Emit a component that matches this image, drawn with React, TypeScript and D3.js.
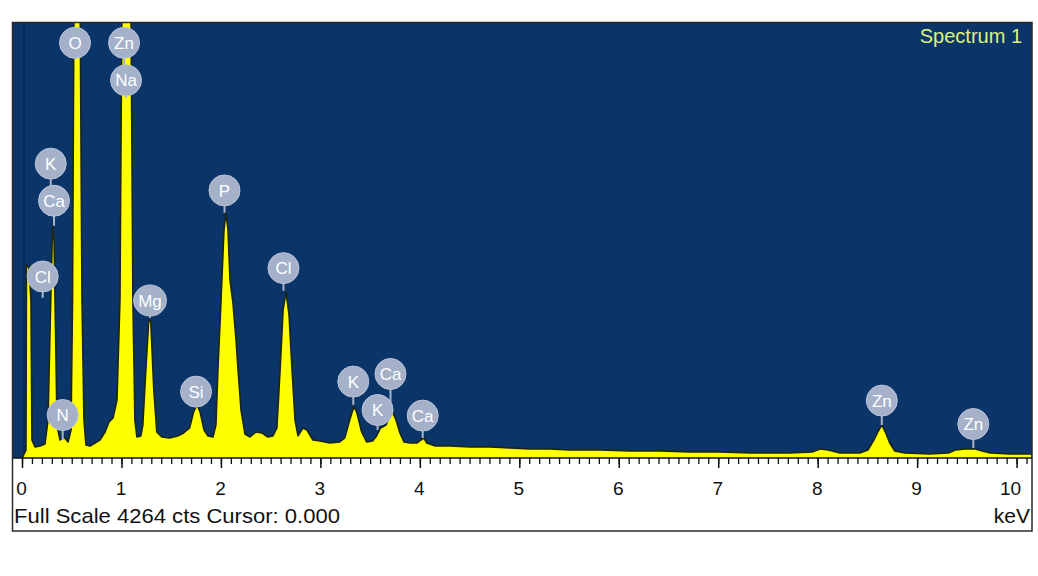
import React from "react";
import * as d3 from "d3";

// ---- Spectrum data (energy in keV, counts) ----
const energyKeV = [
  0.0, 0.01, 0.035, 0.04, 0.065, 0.085, 0.095, 0.126, 0.176, 0.226,
  0.257, 0.277, 0.302, 0.317, 0.332, 0.347, 0.377, 0.417, 0.458, 0.488,
  0.503, 0.518, 0.538, 0.578, 0.598, 0.618, 0.638, 0.679, 0.729, 0.779,
  0.83, 0.87, 0.91, 0.95, 0.98, 1.0, 1.04, 1.09, 1.11, 1.13,
  1.15, 1.19, 1.21, 1.24, 1.27, 1.29, 1.32, 1.35, 1.4, 1.48,
  1.56, 1.62, 1.68, 1.72, 1.755, 1.785, 1.825, 1.865, 1.915, 1.945,
  1.965, 1.995, 2.026, 2.046, 2.066, 2.086, 2.116, 2.147, 2.167, 2.197,
  2.237, 2.287, 2.348, 2.408, 2.468, 2.518, 2.558, 2.59, 2.62, 2.65,
  2.68, 2.71, 2.74, 2.77, 2.82, 2.86, 2.92, 2.99, 3.09, 3.19,
  3.24, 3.29, 3.33, 3.36, 3.41, 3.46, 3.52, 3.56, 3.6, 3.655,
  3.695, 3.725, 3.755, 3.795, 3.835, 3.895, 3.965, 4.005, 4.035, 4.065,
  4.15, 4.3, 4.5, 4.7, 4.9, 5.1, 5.3, 5.5, 5.81, 6.11,
  6.41, 6.71, 7.01, 7.32, 7.72, 7.94, 8.02, 8.1, 8.22, 8.42,
  8.5, 8.56, 8.6, 8.64, 8.68, 8.72, 8.77, 8.87, 9.12, 9.31,
  9.38, 9.48, 9.58, 9.65, 9.73, 9.93, 10.14,
];
const counts = [
  0, 29, 78, 1891, 1862, 1548, 176, 108, 118, 137,
  372, 1254, 2274, 2136, 1254, 323, 176, 206, 157, 274,
  1548, 4600, 5200, 4700, 1548, 372, 127, 118, 147, 176,
  255, 353, 392, 568, 1548, 4500, 5400, 4500, 1548, 372,
  206, 216, 323, 862, 1352, 1333, 666, 255, 206, 196,
  216, 245, 294, 451, 520, 451, 274, 216, 206, 323,
  862, 1519, 2234, 2401, 2234, 1744, 1519, 1156, 862, 470,
  235, 206, 255, 245, 206, 216, 294, 862, 1450, 1627,
  1401, 862, 372, 216, 294, 274, 176, 167, 147, 157,
  196, 372, 500, 451, 255, 157, 167, 216, 294, 323,
  412, 441, 372, 245, 157, 147, 147, 176, 196, 147,
  118, 118, 108, 108, 98, 88, 88, 78, 78, 69,
  69, 59, 59, 49, 49, 59, 88, 78, 49, 49,
  78, 176, 255, 323, 245, 147, 69, 49, 39, 49,
  78, 88, 88, 69, 49, 39, 39,
];

// ---- Element labels ----
const labelElements = ["O", "Zn", "Na", "K", "Ca", "Cl", "N", "Mg", "Si", "P", "Cl", "K", "Ca", "K", "Ca", "Zn", "Zn"];
const labelKeV = [0.528, 1.021, 1.041, 0.284, 0.317, 0.203, 0.404, 1.282, 1.745, 2.031, 2.624, 3.326, 3.7, 3.57, 4.024, 8.64, 9.56];
const labelPeakCts = [3901, 3852, 3529, 2656, 2274, 1568, 176, 1372, 529, 2401, 1637, 520, 431, 274, 196, 323, 98];
const labelTopCts = [4065, 4065, 3698, 2882, 2519, 1777, 421, 1542, 650, 2620, 1859, 748, 823, 470, 415, 562, 333];

// ---- Axis ----
const majorTicks = [0, 1, 2, 3, 4, 5, 6, 7, 8, 9, 10];
const fullScale = 4264;
const xMax = 10.15;

const W = 1038;
const H = 576;
const plotLeft = 12.5;
const plotRight = 1032;
const plotTop = 22.5;
const axisY = 458;
const frameBottom = 531;
const FONT = "'Liberation Sans', Arial, sans-serif";

export default function App() {
  const x = d3.scaleLinear().domain([0, xMax]).range([22.5, plotRight]);
  const y = d3.scaleLinear().domain([0, fullScale]).range([axisY, plotTop]);

  const idx = d3.range(energyKeV.length);
  const area = d3
    .area<number>()
    .x((i) => x(energyKeV[i]))
    .y0(y(0))
    .y1((i) => y(counts[i]))
    .curve(d3.curveLinear);
  const line = d3
    .line<number>()
    .x((i) => x(energyKeV[i]))
    .y((i) => y(counts[i]))
    .curve(d3.curveLinear);

  const minorTicks = d3.range(0, 102).map((i) => i / 10).filter((v) => v <= xMax);

  return (
    <svg
      width={W}
      height={H}
      style={{ position: "absolute", left: 0, top: 0, background: "#ffffff" }}
    >
      <defs>
        <clipPath id="plotClip">
          <rect x={plotLeft} y={plotTop} width={plotRight - plotLeft} height={axisY - plotTop} />
        </clipPath>
      </defs>
      <rect x={0} y={0} width={W} height={H} fill="#ffffff" />
      {/* plot background */}
      <rect x={plotLeft} y={plotTop} width={plotRight - plotLeft} height={axisY - plotTop} fill="#0b3468" />
      {/* cursor line */}
      <line x1={x(0) + 1.5} x2={x(0) + 1.5} y1={plotTop} y2={axisY} stroke="#072a55" strokeWidth={2} />
      {/* spectrum */}
      <g clipPath="url(#plotClip)">
        <path d={area(idx) || ""} fill="#ffff00" />
        <path d={line(idx) || ""} fill="none" stroke="#1b2614" strokeWidth={1.6} strokeLinejoin="round" />
      </g>
      {/* labels */}
      <g>
        {labelElements.map((el, i) => {
          const cx = x(labelKeV[i]);
          const cy = y(labelTopCts[i]);
          const sy = y(labelPeakCts[i]);
          const r = el === "Mg" ? 16.5 : 15.5;
          return (
            <g key={i}>
              <line x1={cx} x2={cx} y1={cy} y2={sy} stroke="#a7b4cc" strokeWidth={2} />
              <ellipse cx={cx} cy={cy} rx={r} ry={15.5} fill="#a4b1c9" stroke="#b9c5da" strokeWidth={1} />
              <text
                x={cx}
                y={cy}
                dy="0.36em"
                textAnchor="middle"
                fontFamily={FONT}
                fontSize={17}
                fill="#ffffff"
              >
                {el}
              </text>
            </g>
          );
        })}
      </g>
      {/* legend */}
      <text x={1022} y={43} textAnchor="end" fontFamily={FONT} fontSize={20} fill="#dcf27a">
        Spectrum 1
      </text>
      {/* axis */}
      <line x1={plotLeft} x2={plotRight} y1={axisY} y2={axisY} stroke="#111111" strokeWidth={1.6} />
      {minorTicks.map((v, i) => (
        <line key={"m" + i} x1={x(v)} x2={x(v)} y1={axisY} y2={axisY + 6} stroke="#111111" strokeWidth={1.3} />
      ))}
      {majorTicks.map((v) => (
        <line key={"M" + v} x1={x(v)} x2={x(v)} y1={axisY} y2={axisY + 10} stroke="#111111" strokeWidth={1.5} />
      ))}
      {majorTicks.map((v, i) => (
        <text
          key={"t" + v}
          x={i === majorTicks.length - 1 ? x(v) + 4 : x(v) - 1}
          y={495}
          textAnchor={i === majorTicks.length - 1 ? "end" : "middle"}
          fontFamily={FONT}
          fontSize={19}
          fill="#111111"
        >
          {v}
        </text>
      ))}
      <text
        x={14}
        y={523}
        fontFamily={FONT}
        fontSize={21}
        fill="#111111"
        textLength={326}
        lengthAdjust="spacingAndGlyphs"
      >
        Full Scale {fullScale} cts Cursor: 0.000
      </text>
      <text x={1030} y={523} textAnchor="end" fontFamily={FONT} fontSize={21} fill="#111111">
        keV
      </text>
      {/* frame */}
      <rect
        x={plotLeft}
        y={plotTop}
        width={plotRight - plotLeft}
        height={frameBottom - plotTop}
        fill="none"
        stroke="#2a2a2a"
        strokeWidth={1.5}
      />
    </svg>
  );
}
